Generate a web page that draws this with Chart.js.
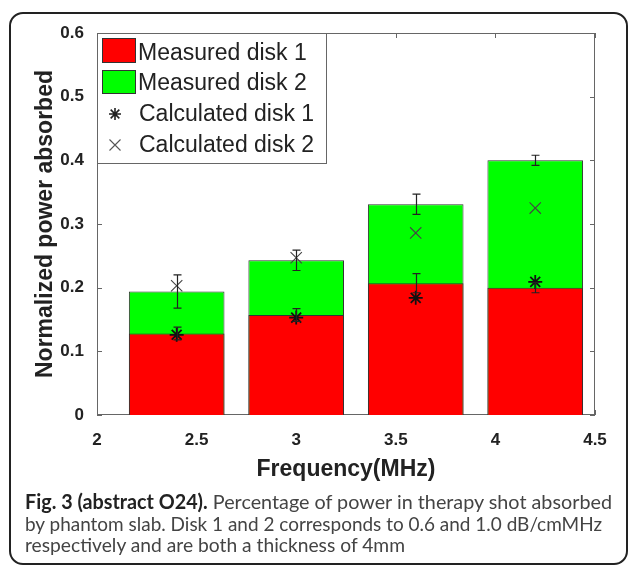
<!DOCTYPE html>
<html>
<head>
<meta charset="utf-8">
<script src="https://cdn.jsdelivr.net/npm/chart.js@4.4.1/dist/chart.umd.min.js"></script>
<style>
  html, body { margin: 0; padding: 0; background: #fff; }
  #wrap { position: relative; width: 630px; height: 567px; overflow: hidden; }
  #card { position: absolute; left: 9px; top: 12px; width: 615px; height: 549px;
          border: 2px solid #222; border-radius: 14px; }
  #c { position: absolute; left: 0; top: 0; }
  #cap { position: absolute; left: 25px; top: 491px; font-family: Lato, "Open Sans", sans-serif;
         font-size: 20px; line-height: 21.5px; color: #444; white-space: nowrap; }
  #cap span { display: inline-block; transform-origin: 0 0; }
  #cap b { color: #222; font-weight: bold; }
</style>
</head>
<body>
<div id="wrap">
  <div id="card"></div>
  <canvas id="c" width="630" height="567"></canvas>
  <div id="cap"><span data-w="587"><b>Fig. 3 (abstract O24).</b> Percentage of power in therapy shot absorbed</span><br><span data-w="577">by phantom slab. Disk 1 and 2 corresponds to 0.6 and 1.0 dB/cmMHz</span><br><span data-w="380">respectively and are both a thickness of 4mm</span></div>
</div>
<script>
// ---- data ----
const freq = [2.4, 3.0, 3.6, 4.2];
const measured1 = [0.128, 0.157, 0.207, 0.200];
const measured2 = [0.194, 0.243, 0.331, 0.400];
const err1 = [0.010, 0.010, 0.015, 0.008];
const err2 = [0.026, 0.016, 0.016, 0.008];
const calc1 = [0.126, 0.153, 0.184, 0.209];
const calc2 = [0.203, 0.247, 0.286, 0.325];
const xTicks = [2, 2.5, 3, 3.5, 4, 4.5];
const yTicks = [0, 0.1, 0.2, 0.3, 0.4, 0.5, 0.6];
const seriesNames = ['Measured disk 1', 'Measured disk 2', 'Calculated disk 1', 'Calculated disk 2'];

const pts = (vals) => freq.map((f, i) => ({x: f, y: vals[i]}));

Chart.defaults.font.family = '"Liberation Sans", Arial, sans-serif';

function drawStar(ctx, x, y, r) {
  ctx.beginPath();
  ctx.moveTo(x - r, y); ctx.lineTo(x + r, y);
  ctx.moveTo(x, y - r); ctx.lineTo(x, y + r);
  const d = r * 0.72;
  ctx.moveTo(x - d, y - d); ctx.lineTo(x + d, y + d);
  ctx.moveTo(x - d, y + d); ctx.lineTo(x + d, y - d);
  ctx.stroke();
}
function drawX(ctx, x, y, r) {
  ctx.beginPath();
  ctx.moveTo(x - r, y - r); ctx.lineTo(x + r, y + r);
  ctx.moveTo(x - r, y + r); ctx.lineTo(x + r, y - r);
  ctx.stroke();
}

const framePlugin = {
  id: 'frame',
  beforeDatasetsDraw(chart) {
    const {ctx, chartArea: a, scales: {x, y}} = chart;
    ctx.save();
    ctx.strokeStyle = '#666';
    ctx.lineWidth = 1;
    ctx.strokeRect(a.left + 0.5, a.top + 0.5, a.right - a.left - 1, a.bottom - a.top - 1);
    ctx.beginPath();
    xTicks.forEach(v => {
      const px = Math.round(x.getPixelForValue(v)) + 0.5;
      ctx.moveTo(px, a.top); ctx.lineTo(px, a.top + 5);
      ctx.moveTo(px, a.bottom); ctx.lineTo(px, a.bottom - 5);
    });
    yTicks.forEach(v => {
      const py = Math.round(y.getPixelForValue(v)) + 0.5;
      ctx.moveTo(a.left, py); ctx.lineTo(a.left + 5, py);
      ctx.moveTo(a.right, py); ctx.lineTo(a.right - 5, py);
    });
    ctx.stroke();
    ctx.restore();
  },
  afterDatasetsDraw(chart) {
    const {ctx, scales: {x, y}} = chart;
    ctx.save();
    ctx.strokeStyle = '#222';
    ctx.lineWidth = 1.2;
    const bar = (f, v, e) => {
      const px = Math.round(x.getPixelForValue(f)) + 0.5;
      const t = y.getPixelForValue(v + e), b = y.getPixelForValue(v - e);
      ctx.beginPath();
      ctx.moveTo(px, t); ctx.lineTo(px, b);
      ctx.moveTo(px - 4, t); ctx.lineTo(px + 4, t);
      ctx.moveTo(px - 4, b); ctx.lineTo(px + 4, b);
      ctx.stroke();
    };
    freq.forEach((f, i) => { bar(f, measured1[i], err1[i]); bar(f, measured2[i], err2[i]); });
    ctx.restore();
  },
  afterDraw(chart) {
    const {ctx, chartArea: a} = chart;
    const L = a.left, T = a.top;
    ctx.save();
    ctx.fillStyle = '#fff';
    ctx.fillRect(L, T, 230, 130);
    ctx.strokeStyle = '#666';
    ctx.lineWidth = 1;
    ctx.strokeRect(L + 0.5, T + 0.5, 229, 130);
    ctx.strokeStyle = '#333';
    ctx.fillStyle = '#ff0000';
    ctx.fillRect(L + 5, T + 5, 34, 25); ctx.strokeRect(L + 5.5, T + 5.5, 33, 24);
    ctx.fillStyle = '#00ff00';
    ctx.fillRect(L + 5, T + 37, 34, 24); ctx.strokeRect(L + 5.5, T + 37.5, 33, 23);
    ctx.strokeStyle = '#222'; ctx.lineWidth = 1.6;
    drawStar(ctx, L + 18, T + 81, 6);
    ctx.strokeStyle = '#555'; ctx.lineWidth = 1.1;
    drawX(ctx, L + 18, T + 112, 5.5);
    ctx.fillStyle = '#222';
    ctx.font = '23px "Liberation Sans", Arial, sans-serif';
    ctx.textBaseline = 'middle';
    ctx.textAlign = 'left';
    const ys = [20, 50, 81, 112];
    seriesNames.forEach((s, i) => ctx.fillText(s, L + (i < 2 ? 41 : 42), T + ys[i] + 1));
    ctx.restore();
  }
};

new Chart(document.getElementById('c'), {
  type: 'bar',
  data: {
    datasets: [
      { type: 'bar', label: seriesNames[0], data: pts(measured1), backgroundColor: '#ff0000',
        borderColor: '#333', borderWidth: 1, grouped: false, barPercentage: 0.96, categoryPercentage: 1, order: 1 },
      { type: 'bar', label: seriesNames[1], data: pts(measured2), backgroundColor: '#00ff00',
        borderColor: '#333', borderWidth: 1, grouped: false, barPercentage: 0.96, categoryPercentage: 1, order: 2 },
      { type: 'scatter', label: seriesNames[2], data: pts(calc1), pointStyle: 'star', pointRadius: 7,
        borderColor: '#111', backgroundColor: '#111', pointBorderWidth: 1.8, order: -1 },
      { type: 'scatter', label: seriesNames[3], data: pts(calc2), pointStyle: 'crossRot', pointRadius: 8,
        borderColor: '#444', backgroundColor: '#444', pointBorderWidth: 1.1, order: -1 }
    ]
  },
  options: {
    responsive: false,
    animation: false,
    devicePixelRatio: 1,
    layout: { padding: { left: 0, top: 33, right: 35, bottom: 0 } },
    plugins: { legend: { display: false }, tooltip: { enabled: false } },
    scales: {
      x: {
        type: 'linear', min: 2, max: 4.5, offset: false,
        grid: { display: false }, border: { display: false },
        ticks: { stepSize: 0.5, color: '#222', padding: 7, font: { size: 17, weight: 'bold' },
                 callback: (v) => String(v) },
        title: { display: true, text: 'Frequency(MHz)', color: '#222',
                 font: { size: 23, weight: 'bold' }, padding: { top: 0, bottom: 84 } },
        afterFit(s) { s.height = 152; }
      },
      y: {
        min: 0, max: 0.6,
        grid: { display: false }, border: { display: false },
        ticks: { stepSize: 0.1, color: '#222', padding: 5, font: { size: 17, weight: 'bold' },
                 callback: (v) => String(Math.round(v * 10) / 10) },
        title: { display: true, text: 'Normalized power absorbed', color: '#222',
                 font: { size: 23, weight: 'bold' }, padding: { top: 32, bottom: 0 } },
        afterFit(s) { s.width = 97; }
      }
    }
  },
  plugins: [framePlugin]
});

// fit each caption line to the reference line length
document.querySelectorAll('#cap span').forEach(sp => {
  const w = sp.getBoundingClientRect().width;
  const target = parseFloat(sp.dataset.w);
  if (w > 0) sp.style.transform = 'scaleX(' + (target / w) + ')';
});
</script>
</body>
</html>
